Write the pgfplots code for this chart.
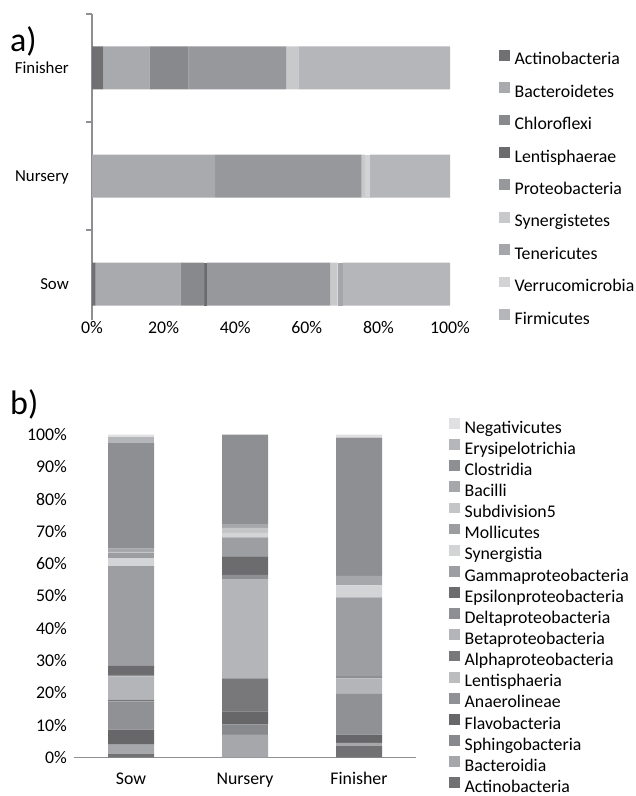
\documentclass[border=0pt]{standalone}
\usepackage{pgfplots}
\pgfplotsset{compat=1.18}
\usepackage{fontspec}
\setmainfont{Carlito}

% phylum colours
\definecolor{phActino}{HTML}{707073}
\definecolor{phBactero}{HTML}{A9AAAD}
\definecolor{phChloro}{HTML}{88898C}
\definecolor{phLenti}{HTML}{6B6B6E}
\definecolor{phProteo}{HTML}{97989B}
\definecolor{phSynerg}{HTML}{C8C9CB}
\definecolor{phTeneri}{HTML}{A5A6A9}
\definecolor{phVerruc}{HTML}{D3D3D5}
\definecolor{phFirmi}{HTML}{B5B6B9}
% class colours
\definecolor{clActino}{HTML}{717174}
\definecolor{clBacteroidia}{HTML}{A6A7AA}
\definecolor{clSphingo}{HTML}{88898C}
\definecolor{clFlavo}{HTML}{67676A}
\definecolor{clAnaero}{HTML}{909194}
\definecolor{clLenti}{HTML}{BCBDBF}
\definecolor{clAlpha}{HTML}{78787B}
\definecolor{clBeta}{HTML}{B4B5B8}
\definecolor{clDelta}{HTML}{8E8F92}
\definecolor{clEpsilon}{HTML}{6C6C6F}
\definecolor{clGamma}{HTML}{9D9EA1}
\definecolor{clSynerg}{HTML}{D3D4D6}
\definecolor{clMolli}{HTML}{9C9DA0}
\definecolor{clSubdiv}{HTML}{C4C5C7}
\definecolor{clBacilli}{HTML}{A6A7AA}
\definecolor{clClostri}{HTML}{8E8F92}
\definecolor{clErysi}{HTML}{B5B6B9}
\definecolor{clNegati}{HTML}{E0E0E2}
\definecolor{axisgray}{HTML}{8E8F92}

\newcommand{\chartfont}{\fontsize{17.8bp}{21bp}\selectfont}

\pgfplotsset{
  common/.style={
    scale only axis,
    /pgf/number format/assume math mode=true,
    tick label style={font=\chartfont},
    major tick length=0pt,
    legend cell align=left,
  },
  % plain filled square as legend key, no outline
  sqlegend/.style={
    every axis plot/.append style={draw=none},
    legend image code/.code={\fill[##1,draw=none] (0bp,0.3bp) rectangle (10.8bp,11.1bp);},
  },
}

\begin{document}
\begin{tikzpicture}
\path[use as bounding box] (0,0) rectangle (636bp,796bp);

% ---------- a) phylum level ----------
\begin{axis}[
  common,
  at={(92bp,476bp)}, anchor=south west,
  width=358bp, height=306bp,
  xbar stacked, bar width=43bp,
  sqlegend,
  xmin=0, xmax=100, ymin=-0.333, ymax=2.5,
  axis x line*=bottom, axis y line*=left,
  x axis line style={draw=none},
  y axis line style={draw=axisgray, line width=1.5bp},
  xtick={0,20,...,100},
  xticklabel={\pgfmathprintnumber{\tick}\%},
  xticklabel style={inner sep=0pt, anchor=north, text height=11.6bp, text depth=0pt, yshift=-1.5bp},
  ytick={0,1,2}, yticklabels={Sow,Nursery,Finisher},
  yticklabel style={inner sep=0pt, anchor=east, text height=10.9bp, text depth=0pt, xshift=-23bp,
    font=\fontsize{16.8bp}{20bp}\selectfont},
  minor ytick={0.5,1.5,2.5},
  minor tick length=6bp, tick align=outside,
  minor y tick style={draw=axisgray, line width=1.5bp},
  legend style={at={(1.1377,0.883)}, anchor=north west, draw=none, fill=none,
    inner sep=0pt, outer sep=0pt, font=\chartfont, row sep=12.8bp, column sep=4.5bp,
    nodes={inner sep=0pt, text height=12.5bp, text depth=4.5bp}},
]
\addplot[fill=phActino]  coordinates {(1.0,0) (0,1) (3.2,2)};
\addlegendentry{Actinobacteria}
\addplot[fill=phBactero] coordinates {(23.7,0) (34.4,1) (12.8,2)};
\addlegendentry{Bacteroidetes}
\addplot[fill=phChloro]  coordinates {(6.7,0) (0,1) (11.0,2)};
\addlegendentry{Chloroflexi}
\addplot[fill=phLenti]   coordinates {(0.6,0) (0,1) (0,2)};
\addlegendentry{Lentisphaerae}
\addplot[fill=phProteo]  coordinates {(34.6,0) (40.9,1) (27.2,2)};
\addlegendentry{Proteobacteria}
\addplot[fill=phSynerg]  coordinates {(2.0,0) (1.0,1) (3.6,2)};
\addlegendentry{Synergistetes}
\addplot[fill=phTeneri]  coordinates {(1.4,0) (0,1) (0,2)};
\addlegendentry{Tenericutes}
\addplot[fill=phVerruc]  coordinates {(0,0) (1.3,1) (0,2)};
\addlegendentry{Verrucomicrobia}
\addplot[fill=phFirmi]   coordinates {(30.0,0) (22.4,1) (42.2,2)};
\addlegendentry{Firmicutes}
\end{axis}

% ---------- b) class level ----------
\begin{axis}[
  common,
  at={(74bp,38.5bp)}, anchor=south west,
  width=342bp, height=322.8bp,
  ybar stacked, bar width=46bp,
  sqlegend,
  xmin=-0.5, xmax=2.5, ymin=0, ymax=100,
  axis x line*=bottom, axis y line*=left,
  y axis line style={draw=none},
  x axis line style={draw=axisgray, line width=1.5bp},
  xtick={0,1,2}, xticklabels={Sow,Nursery,Finisher},
  xticklabel style={inner sep=0pt, anchor=north, text height=11.6bp, text depth=0pt, yshift=-15.7bp},
  ytick={0,10,...,100},
  yticklabel={\pgfmathprintnumber{\tick}\%},
  yticklabel style={inner sep=0pt, anchor=east, text height=11.6bp, text depth=0pt, xshift=-7bp},
  reverse legend,
  legend style={at={(1.0974,1.052)}, anchor=north west, draw=none, fill=none,
    inner sep=0pt, outer sep=0pt, font=\chartfont, row sep=1.55bp, column sep=4.5bp,
    nodes={inner sep=0pt, text height=12.5bp, text depth=4.5bp}},
]
\addplot[fill=clActino]      coordinates {(0,1.2) (1,0) (2,3.5)};
\addlegendentry{Actinobacteria}
\addplot[fill=clBacteroidia] coordinates {(0,2.8) (1,7.1) (2,1.0)};
\addlegendentry{Bacteroidia}
\addplot[fill=clSphingo]     coordinates {(0,0) (1,3.1) (2,0)};
\addlegendentry{Sphingobacteria}
\addplot[fill=clFlavo]       coordinates {(0,4.6) (1,4.1) (2,2.6)};
\addlegendentry{Flavobacteria}
\addplot[fill=clAnaero]      coordinates {(0,8.8) (1,0) (2,12.6)};
\addlegendentry{Anaerolineae}
\addplot[fill=clLenti]       coordinates {(0,0) (1,0) (2,0)};
\addlegendentry{Lentisphaeria}
\addplot[fill=clAlpha]       coordinates {(0,0.5) (1,10.2) (2,0)};
\addlegendentry{Alphaproteobacteria}
\addplot[fill=clBeta]        coordinates {(0,7.2) (1,30.6) (2,4.8)};
\addlegendentry{Betaproteobacteria}
\addplot[fill=clDelta]       coordinates {(0,0.5) (1,1.5) (2,0.7)};
\addlegendentry{Deltaproteobacteria}
\addplot[fill=clEpsilon]     coordinates {(0,2.8) (1,5.7) (2,0)};
\addlegendentry{Epsilonproteobacteria}
\addplot[fill=clGamma]       coordinates {(0,30.9) (1,5.9) (2,24.4)};
\addlegendentry{Gammaproteobacteria}
\addplot[fill=clSynerg]      coordinates {(0,2.5) (1,1.4) (2,3.7)};
\addlegendentry{Synergistia}
\addplot[fill=clMolli]       coordinates {(0,1.5) (1,0) (2,0)};
\addlegendentry{Mollicutes}
\addplot[fill=clSubdiv]      coordinates {(0,0.4) (1,1.5) (2,0)};
\addlegendentry{Subdivision5}
\addplot[fill=clBacilli]     coordinates {(0,1.0) (1,1.2) (2,3.0)};
\addlegendentry{Bacilli}
\addplot[fill=clClostri]     coordinates {(0,32.9) (1,27.7) (2,42.8)};
\addlegendentry{Clostridia}
\addplot[fill=clErysi]       coordinates {(0,1.6) (1,0) (2,0)};
\addlegendentry{Erysipelotrichia}
\addplot[fill=clNegati]      coordinates {(0,0.8) (1,0) (2,0.9)};
\addlegendentry{Negativicutes}
\end{axis}

\node[anchor=base west, inner sep=0pt, font=\fontsize{34bp}{38bp}\selectfont] at (10bp,744bp) {a)};
\node[anchor=base west, inner sep=0pt, font=\fontsize{34bp}{38bp}\selectfont] at (10bp,381bp) {b)};
\end{tikzpicture}
\end{document}
